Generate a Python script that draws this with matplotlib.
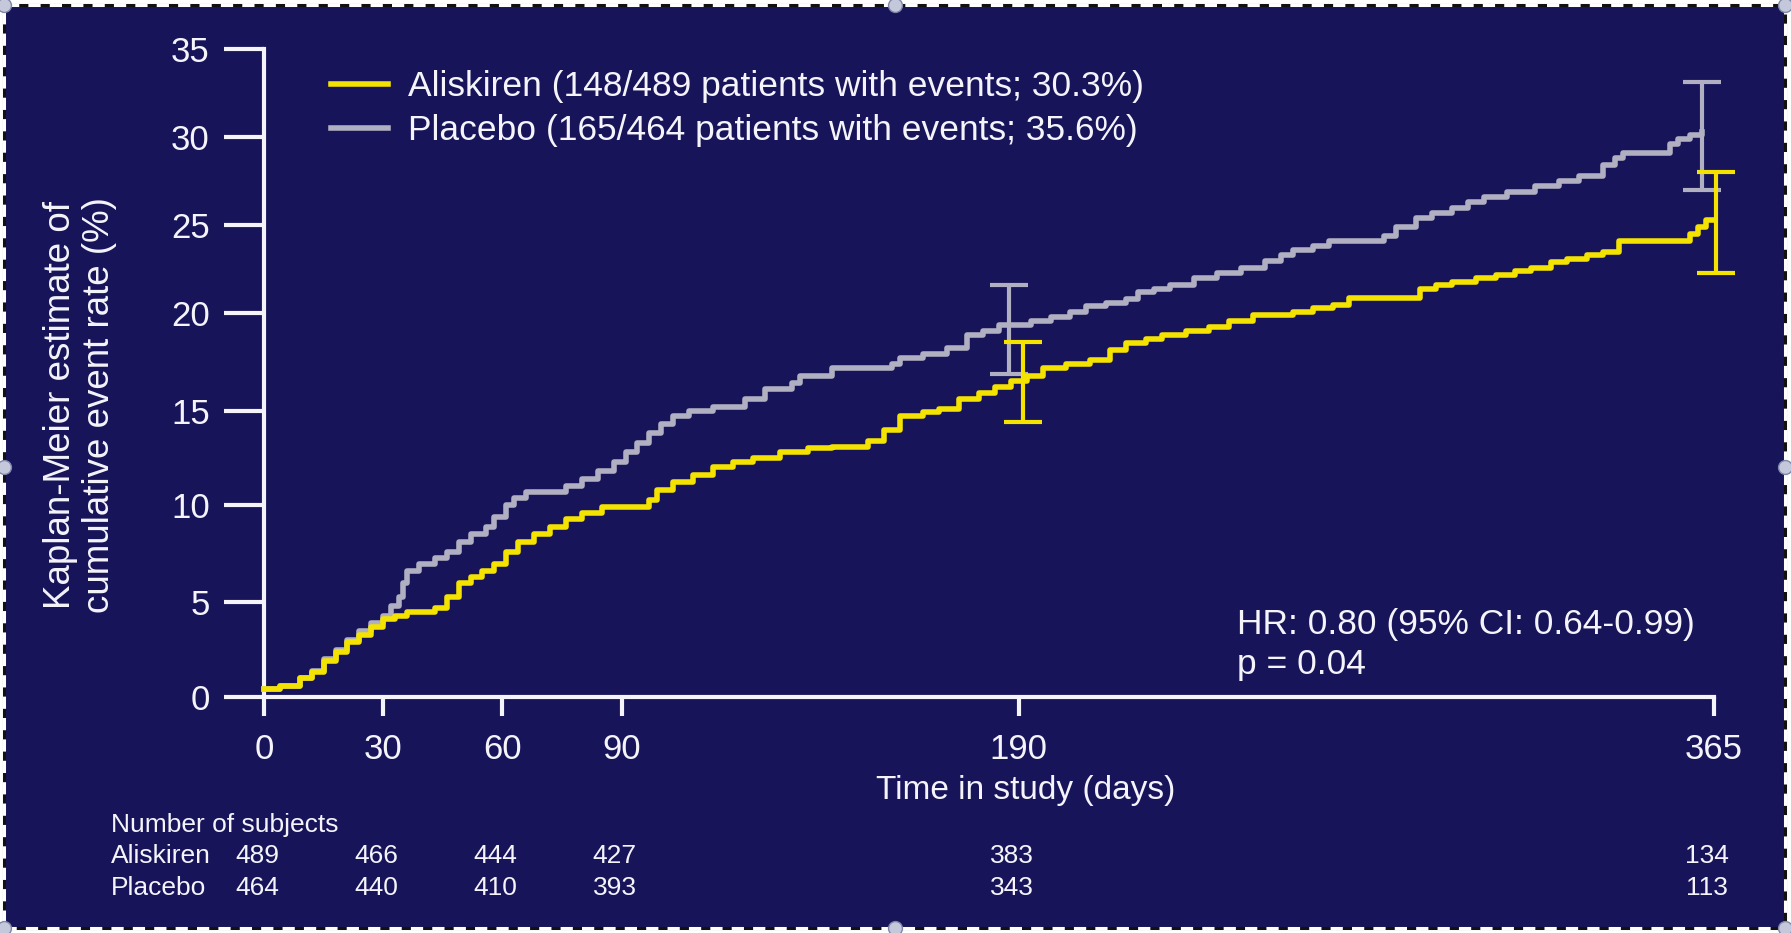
#!/usr/bin/env python3
"""Kaplan-Meier cumulative event rate: aliskiren vs placebo, with numbers at risk."""
from __future__ import annotations

import numpy as np
import matplotlib

matplotlib.use("Agg")
import matplotlib.pyplot as plt
from matplotlib import transforms
from matplotlib.lines import Line2D
from matplotlib.patches import Rectangle

# step curves: day in study -> cumulative event rate (%)
ALISKIREN_DAYS = [0, 4, 9, 12, 15, 18, 21, 24, 27, 30, 33, 36, 43, 46, 49, 52, 55, 58,
                  61, 64, 68, 72, 76, 80, 85, 97, 99, 103, 108, 113, 118, 123, 130, 137,
                  143, 152, 156, 160, 166, 170, 175, 180, 184, 188, 192, 196, 202, 208,
                  213, 217, 222, 226, 232, 238, 243, 249, 259, 264, 269, 273, 291, 295,
                  299, 305, 310, 315, 319, 324, 328, 333, 337, 341, 359, 361, 363, 365]
ALISKIREN_RATE = [0.4, 0.6, 1.0, 1.3, 1.9, 2.4, 2.9, 3.3, 3.7, 4.1, 4.3, 4.5, 4.7, 5.3,
                  6.0, 6.3, 6.6, 7.0, 7.6, 8.1, 8.5, 8.9, 9.3, 9.6, 9.9, 10.3, 10.8, 11.2,
                  11.6, 12.0, 12.3, 12.5, 12.8, 13.0, 13.1, 13.4, 14.0, 14.7, 14.9, 15.1,
                  15.6, 15.9, 16.2, 16.5, 16.8, 17.2, 17.4, 17.6, 18.1, 18.5, 18.7, 18.9,
                  19.1, 19.3, 19.6, 19.9, 20.1, 20.3, 20.5, 20.9, 21.4, 21.6, 21.8, 22.0,
                  22.2, 22.4, 22.6, 22.9, 23.1, 23.3, 23.5, 24.1, 24.5, 24.9, 25.3, 25.3]

PLACEBO_DAYS = [0, 4, 9, 12, 15, 18, 21, 24, 27, 30, 32, 34, 35, 36, 39, 43, 46, 49, 52,
                56, 58, 61, 63, 66, 76, 80, 84, 88, 91, 94, 97, 100, 103, 107, 113, 121,
                126, 133, 135, 143, 158, 160, 166, 172, 177, 181, 185, 193, 198, 203, 207,
                212, 217, 220, 224, 228, 234, 240, 246, 252, 256, 259, 264, 268, 282, 285,
                290, 294, 299, 303, 307, 313, 320, 326, 331, 337, 340, 342, 354, 356, 359,
                362]
PLACEBO_RATE = [0.4, 0.6, 1.0, 1.4, 2.0, 2.5, 3.0, 3.5, 3.9, 4.3, 4.8, 5.3, 6.0, 6.6, 7.0,
                7.3, 7.6, 8.1, 8.5, 8.9, 9.4, 10.0, 10.4, 10.7, 11.0, 11.4, 11.8, 12.3,
                12.8, 13.3, 13.8, 14.3, 14.7, 15.0, 15.2, 15.6, 16.1, 16.4, 16.8, 17.2,
                17.4, 17.7, 17.9, 18.2, 18.9, 19.1, 19.4, 19.6, 19.8, 20.1, 20.4, 20.6,
                20.8, 21.2, 21.4, 21.6, 22.0, 22.3, 22.6, 23.0, 23.3, 23.6, 23.8, 24.1,
                24.4, 24.9, 25.4, 25.7, 26.0, 26.3, 26.6, 26.9, 27.2, 27.5, 27.8, 28.4,
                28.8, 29.1, 29.6, 29.9, 30.1, 30.3]

# 95% CI bars near day 190 and day 365 (placed slightly apart, as in the source)
ALISKIREN_CI_DAYS = [191, 365.5]
ALISKIREN_CI_LOW = [14.4, 22.3]
ALISKIREN_CI_HIGH = [18.55, 28.0]
PLACEBO_CI_DAYS = [187.5, 362]
PLACEBO_CI_LOW = [16.9, 27.0]
PLACEBO_CI_HIGH = [21.6, 33.1]

X_TICKS = [0, 30, 60, 90, 190, 365]
Y_TICKS = [0, 5, 10, 15, 20, 25, 30, 35]

AT_RISK_ALISKIREN = [489, 466, 444, 427, 383, 134]
AT_RISK_PLACEBO = [464, 440, 410, 393, 343, 113]

LEGEND_LABELS = [
    "Aliskiren (148/489 patients with events; 30.3%)",
    "Placebo (165/464 patients with events; 35.6%)",
]
HR_TEXT = "HR: 0.80 (95% CI: 0.64-0.99)\np = 0.04"

# the source y axis is not evenly spaced: share of the axis height at each y tick
Y_TICK_FRAC = [0, 0.146, 0.296, 0.442, 0.592, 0.728, 0.864, 1.0]

NAVY = "#17145a"
YELLOW = "#f4e300"
GREY = "#b0b0c2"
WHITE = "#f4f4fa"

W, H = 1791, 933


def y_scale_funcs():
    src = np.array([-35.0] + Y_TICKS + [70.0])
    dst = np.array([-35.0] + [f * 35 for f in Y_TICK_FRAC] + [70.0])

    def fwd(v):
        return np.interp(v, src, dst)

    def inv(v):
        return np.interp(v, dst, src)

    return fwd, inv


def draw_frame(fig) -> None:
    # slide panel with dashed selection border and handles
    x0, x1 = 4 / W, 1785 / W
    y0, y1 = 1 - 928 / H, 1 - 5 / H
    fig.patches.append(Rectangle((x0, y0), x1 - x0, y1 - y0, transform=fig.transFigure,
                                 facecolor=NAVY, edgecolor="none", zorder=-10))
    fig.patches.append(Rectangle((x0, y0), x1 - x0, y1 - y0, transform=fig.transFigure,
                                 facecolor="none", edgecolor="#111111", lw=2.2, zorder=5))
    fig.patches.append(Rectangle((x0, y0), x1 - x0, y1 - y0, transform=fig.transFigure,
                                 facecolor="none", edgecolor="white", lw=2.2,
                                 linestyle=(0, (4, 3)), zorder=6))
    xm, ym = (x0 + x1) / 2, (y0 + y1) / 2
    hx = [x0, xm, x1, x0, x1, x0, xm, x1]
    hy = [y1, y1, y1, ym, ym, y0, y0, y0]
    fig.add_artist(Line2D(hx, hy, ls="none", marker="o", ms=10, mfc="#c4c8da",
                          mec="#7f86a8", mew=1, transform=fig.transFigure, zorder=7))


def main() -> None:
    plt.rcParams["font.family"] = ["Liberation Sans", "DejaVu Sans"]

    fig = plt.figure(figsize=(W / 100, H / 100), dpi=100, facecolor="white")
    draw_frame(fig)

    ax = fig.add_axes([264 / W, 1 - 697 / H, 1450 / W, 648 / H])
    ax.set_facecolor("none")
    ax.set_yscale("function", functions=y_scale_funcs())
    ax.set_xlim(0, 365)
    ax.set_ylim(0, 35)

    for side in ("top", "right"):
        ax.spines[side].set_visible(False)
    for side in ("left", "bottom"):
        ax.spines[side].set_color(WHITE)
        ax.spines[side].set_linewidth(3)

    ax.set_xticks(X_TICKS)
    ax.set_yticks(Y_TICKS)
    ax.tick_params(axis="y", length=29, width=3, pad=10, labelsize=25,
                   color=WHITE, labelcolor=WHITE)
    ax.tick_params(axis="x", length=14, width=3, pad=12, labelsize=25,
                   color=WHITE, labelcolor=WHITE)

    ax.step(PLACEBO_DAYS, PLACEBO_RATE, where="post", color=GREY, lw=4,
            clip_on=False, zorder=3)
    ax.step(ALISKIREN_DAYS, ALISKIREN_RATE, where="post", color=YELLOW, lw=4,
            clip_on=False, zorder=4)

    for days, lo, hi, col, z in [
        (PLACEBO_CI_DAYS, PLACEBO_CI_LOW, PLACEBO_CI_HIGH, GREY, 3.5),
        (ALISKIREN_CI_DAYS, ALISKIREN_CI_LOW, ALISKIREN_CI_HIGH, YELLOW, 4.5),
    ]:
        lo = np.array(lo)
        hi = np.array(hi)
        eb = ax.errorbar(days, (lo + hi) / 2, yerr=(hi - lo) / 2, fmt="none",
                         ecolor=col, elinewidth=3, capsize=14, capthick=3, zorder=z)
        for child in eb.get_children():
            child.set_clip_on(False)

    handles = [Line2D([], [], color=YELLOW, lw=4), Line2D([], [], color=GREY, lw=4)]
    ax.legend(handles, LEGEND_LABELS, loc="upper left", bbox_to_anchor=(0.046, 0.967),
              bbox_transform=ax.transAxes, frameon=False, fontsize=25.5, handlelength=1.62,
              handletextpad=0.57, labelspacing=0.3, borderpad=0, borderaxespad=0,
              labelcolor=WHITE)

    ax.text(0.671, 0.081, HR_TEXT, transform=ax.transAxes, ha="left", va="center",
            fontsize=25.5, linespacing=1.28, color=WHITE)

    ax.set_xlabel("Time in study (days)", fontsize=24, color=WHITE)
    ax.xaxis.set_label_coords(0.5255, -0.12)

    fig.text(80 / W, 1 - 405 / H, "Kaplan-Meier estimate of\ncumulative event rate (%)",
             rotation=90, ha="center", va="center", multialignment="center",
             fontsize=26.5, linespacing=1.12, color=WHITE)

    # numbers at risk table
    fig.text(111 / W, 1 - 825 / H, "Number of subjects", ha="left", va="center",
             fontsize=19, color=WHITE)
    blend = transforms.blended_transform_factory(ax.transData, fig.transFigure)
    shifted = transforms.offset_copy(blend, fig=fig, x=-7, units="dots")
    for name, counts, yy in [("Aliskiren", AT_RISK_ALISKIREN, 1 - 856 / H),
                             ("Placebo", AT_RISK_PLACEBO, 1 - 888 / H)]:
        fig.text(111 / W, yy, name, ha="left", va="center", fontsize=19, color=WHITE)
        for day, n in zip(X_TICKS, counts):
            ax.text(day, yy, str(n), transform=shifted, ha="center", va="center",
                    fontsize=19, color=WHITE, clip_on=False)

    fig.savefig("out.png", dpi=100, facecolor=fig.get_facecolor())
    plt.close(fig)


if __name__ == "__main__":
    main()
